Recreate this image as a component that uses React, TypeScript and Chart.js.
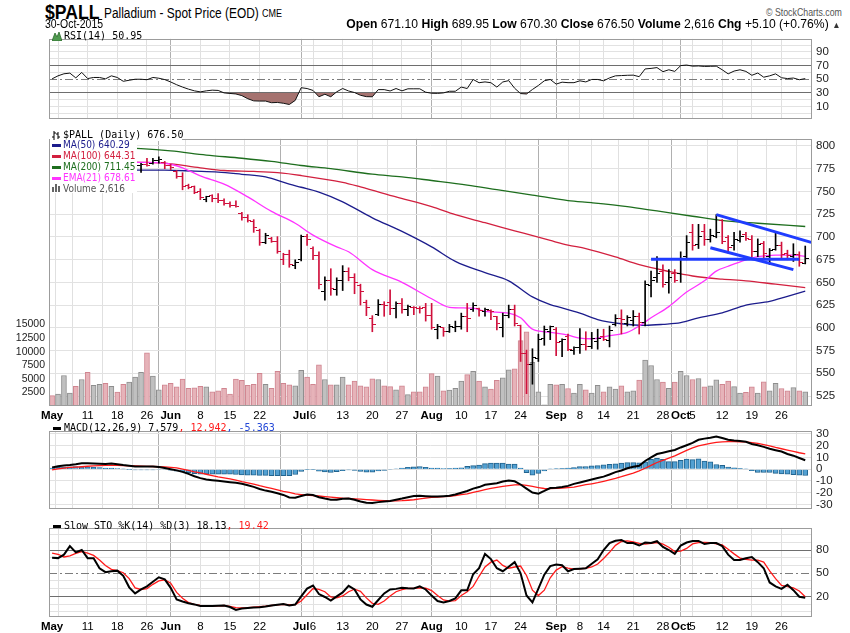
import React, { useEffect, useRef } from 'react';
import { Chart, registerables } from 'chart.js';

Chart.register(...registerables);

const FONT = "'Liberation Sans', Arial, sans-serif";
const MONO = "'DejaVu Sans Mono', monospace";
const COND = "'DejaVu Sans Condensed', 'DejaVu Sans', sans-serif";

const X_MIN = -0.52;
const X_MAX = 128.14;
const LEFT_W = 49;
const RIGHT_W = 38;

// ---- x axis (trading-day index, 1 May 2015 = 0) ----
const tickDays = [0, 1, 6, 11, 16, 20, 25, 30, 35, 42, 44, 49, 54, 59, 64, 69, 74, 79, 85, 89, 93, 98, 103, 106, 108, 113, 118, 123];
const tickLabels = ['May', '', '11', '18', '26', 'Jun', '8', '15', '22', 'Jul', '6', '13', '20', '27', 'Aug', '10', '17', '24', 'Sep', '8', '14', '21', '28', 'Oct', '5', '12', '19', '26'];
const monthTickIdx = [0, 5, 9, 14, 18, 23];

// ---- daily OHLC + volume ----
const opens = [
  780, 776, 781, 786, 788, 779, 790, 780, 783, 783,
  780, 786, 783, 775, 777, 778, 780, 781, 784, 782,
  779, 772, 766, 756, 755, 750, 741, 745, 742, 740,
  737, 734, 726, 721, 717, 707, 694, 698, 695, 675,
  681, 668, 675, 700, 687, 680, 640, 652, 642, 652,
  662, 655, 647, 628, 610, 615, 626, 628, 621, 627,
  620, 622, 621, 622, 614, 598, 600, 596, 600, 602,
  613, 620, 621, 618, 619, 612, 600, 614, 620, 603,
  572, 560, 566, 588, 596, 598, 585, 590, 575, 578,
  582, 580, 585, 591, 586, 604, 610, 605, 608, 612,
  606, 646, 655, 662, 650, 660, 660, 678, 705, 692,
  706, 697, 700, 718, 699, 690, 696, 703, 697, 684,
  693, 678, 686, 690, 682, 678, 681, 671.1,
];
const highs = [
  784, 783, 789, 791, 790, 793, 792, 786, 787, 785,
  789, 788, 784, 780, 782, 781, 786.5, 786.5, 788, 783,
  780, 773, 770.6, 758, 756, 753, 744.7, 746.4, 747.5, 742,
  738.6, 739.7, 727, 724.4, 719, 708.5, 704, 699.6, 700.3, 682,
  685.4, 674.8, 702, 702.8, 689, 683.6, 656, 665, 655, 668.4,
  666, 659.5, 648, 630.4, 613.4, 631, 628.7, 641.8, 628.7, 632.2,
  625, 623.3, 623.3, 626.9, 626.9, 603.8, 600.3, 603.8, 607.4, 616.2,
  626.9, 627.6, 621.6, 621.6, 619.8, 612.7, 616.2, 625, 625, 603,
  575.5, 577, 593, 602, 602, 600.3, 587.9, 593.2, 579, 599.2,
  595.7, 595, 598.5, 598.5, 602, 614.5, 619.8, 613.4, 619, 616.2,
  651.7, 662.4, 678.3, 669.4, 664, 664, 683.6, 701.4, 713.8, 713.8,
  713.8, 708.5, 724.4, 719.1, 701.4, 705, 706.7, 705, 701.4, 697.8,
  695, 687.2, 705, 694.3, 685.4, 692.5, 683.6, 689.95,
];
const lows = [
  774, 773, 779, 783, 777, 778, 778, 777, 779, 777,
  779, 780, 772, 771, 773, 771, 777.7, 780, 781, 775,
  774, 764.5, 751.8, 752.8, 747.5, 741, 738.6, 738.6, 737.6, 735,
  732.6, 732.6, 718.4, 716.3, 705, 690.7, 692.5, 694, 682, 669.5,
  666.6, 665, 673.7, 690.7, 675, 642.9, 630.4, 635.8, 635.8, 641,
  651.7, 637.5, 625, 613.4, 595.7, 613.4, 612.7, 614.5, 611, 616.2,
  613.4, 614.5, 616.2, 607.4, 598.5, 587.9, 590.7, 594.9, 595.7, 598.5,
  595.7, 618, 612.7, 612.7, 609, 597.8, 590, 611, 602, 563,
  527.6, 538, 563, 580.8, 587, 569.4, 568.4, 575, 570.8, 571.9,
  575.5, 577.2, 576.5, 586, 579, 602, 593.2, 602, 602, 593.2,
  602, 634, 650, 644.6, 638.2, 650, 650, 674.8, 685.4, 687.2,
  690.7, 694.3, 699, 692.5, 682, 685.4, 694.3, 696.1, 678.3, 678.3,
  674.8, 669.5, 685.4, 676.5, 674.8, 673, 667.7, 670.3,
];
const closes = [
  776, 781, 786, 788, 779, 790, 780, 783, 783.5, 780,
  786, 783, 775, 777, 779, 780, 778, 784, 785, 779,
  776, 766, 755, 754, 749, 743, 744, 742, 740, 737,
  734, 733.5, 721, 718, 710, 694, 701, 695, 684, 681,
  670, 672, 700, 697, 680, 648, 652, 643, 652, 662,
  655, 650, 640, 622, 604, 626, 625, 621, 627, 620,
  624, 622.5, 621.5, 614, 600, 601, 596, 601, 602, 613,
  610, 625, 619, 620, 618, 605, 614, 620, 605, 572,
  560, 567, 587, 598, 601, 584, 587, 576, 578, 582,
  579, 588, 588.5, 587, 597, 610, 609, 611, 613, 606,
  648, 652, 660, 648, 655, 652, 676, 694, 690, 700,
  697, 701, 705, 695, 688, 697, 700, 698, 684, 692,
  682, 685, 690, 681, 679, 681, 671.4, 676.5,
];
const volumes = [
  1900, 2200, 5600, 2380, 3630, 4880, 6190, 3810, 3990, 4170,
  3630, 2560, 3990, 4400, 5300, 6190, 9760, 5480, 2980, 3870,
  4170, 3510, 4940, 3270, 3330, 3630, 3510, 2620, 2800, 3270,
  2200, 4940, 4700, 3810, 3990, 6010, 3990, 3270, 6370, 4170,
  3870, 3690, 6550, 5300, 3990, 7560, 4880, 3870, 3870, 5300,
  3870, 4580, 3690, 3510, 5000, 4880, 3690, 3570, 2980, 3690,
  2080, 2620, 2620, 3510, 5950, 5480, 2800, 2920, 3270, 4580,
  5770, 6370, 4580, 3510, 3100, 4700, 5180, 6670, 6850, 12020,
  13630, 8040, 2600, 200, 3990, 3870, 3990, 3210, 2380, 3990,
  2980, 2380, 3810, 2620, 3510, 3100, 3690, 2620, 2800, 4760,
  8450, 7440, 4880, 4400, 3270, 4400, 6370, 5600, 4880, 5060,
  3510, 3690, 4820, 3990, 4580, 3570, 2380, 2500, 3510, 2380,
  4460, 2800, 4170, 3210, 2800, 3390, 2800, 2616,
];

// ---- moving averages (day, value) ----
const ma50Days = [0, 14, 19, 24, 28, 32, 36, 40, 42, 45, 49, 54, 59, 64, 68, 73, 77, 81, 84, 86, 89, 92, 96, 100, 103, 106, 109, 113, 117, 121, 124, 127];
const ma50Vals = [772, 773.4, 773.4, 772.3, 771.3, 768.8, 766, 758, 754.6, 749.3, 738.6, 721, 706, 689, 673, 660.6, 651.7, 634, 625.5, 622, 616.2, 609.1, 604.5, 602.8, 603.8, 605.6, 611, 616.5, 625, 629, 634.7, 640.29];
const ma100Days = [0, 14, 19, 25, 29, 34, 38, 42, 49, 52, 58, 64, 68, 73, 78, 84, 87, 90, 95, 99, 104, 108, 113, 117, 122, 127];
const ma100Vals = [786, 782.3, 781.2, 776, 773, 772, 770.6, 767.5, 760, 755, 744, 733.3, 724.4, 715.6, 706.7, 696.1, 691, 687.2, 678, 669.5, 662, 657, 653.5, 651.7, 648, 644.31];
const ma200Days = [0, 15, 20, 26, 32, 37, 42, 47, 54, 59, 64, 70, 75, 81, 87, 91, 97, 102, 108, 114, 119, 127];
const ma200Vals = [801, 797, 794.5, 790, 786.5, 783, 778.5, 775, 769, 766, 762, 757, 752, 746, 740, 737.6, 733.3, 728.5, 722.7, 717.3, 715, 711.45];
const ema21Days = [0, 14, 19, 22, 25, 29, 33, 37, 41, 44, 48, 50, 54, 59, 64, 67, 71, 73, 77, 79, 81, 84, 87, 89, 91, 94, 97, 99, 101, 104, 107, 110, 112, 114, 117, 119, 122, 125, 127];
const ema21Vals = [785, 782, 781, 776, 767, 758, 744, 728, 715, 702, 689, 683.6, 664, 650, 632, 622.6, 621.6, 618, 616.2, 611, 598.5, 595, 592, 588.6, 588, 591.4, 595, 602, 611, 623.3, 639.3, 651.7, 662.4, 667.7, 674.8, 678.3, 680, 680, 678.61];

// ---- drawn trend lines (day, price) ----
const flatLineDays = [101, 126];
const flatLineVals = [675.5, 675.5];
const upperLineDays = [112, 128];
const upperLineVals = [724.5, 694];
const lowerLineDays = [111, 125];
const lowerLineVals = [688, 664];

// ---- RSI(14) ----
const rsi = [
  50.6, 55, 58, 59, 52, 60, 51, 52.6, 52.6, 50.6,
  55, 52.6, 47, 48.5, 50, 50, 49.3, 52.6, 51.5, 49.5,
  46, 42, 38.5, 35.5, 33, 31.5, 33, 34, 33.6, 30,
  29.2, 28.4, 26, 21.5, 18.3, 18, 18, 15.6, 16, 14.8,
  13, 19, 37.6, 36.4, 33.6, 24.3, 28, 24.3, 31.6, 36.4,
  32.8, 30.5, 26.5, 24.5, 24.3, 34.8, 34.8, 32.8, 36.4, 33,
  36, 36, 36, 31, 29.5, 29.3, 30, 32.4, 32.4, 38.5,
  36.4, 49.7, 44.9, 46.1, 44.9, 38.5, 46, 48, 36.8, 29,
  28.4, 35, 40.9, 47.7, 49.7, 42.9, 45.7, 45, 45, 47.7,
  46.1, 49.7, 49.7, 47.7, 52, 55, 55.4, 55.8, 56, 53.8,
  65.1, 65.9, 67.1, 61.1, 63.9, 61.5, 70, 70.8, 69.2, 69.5,
  68.8, 69, 69.2, 63.9, 57.9, 62, 63.9, 61.5, 55.8, 59.1,
  53, 55, 57.9, 52.2, 51, 51.8, 49.3, 50.95,
];

// ---- MACD(12,26,9) ----
const macd = [
  1.5, 2.5, 3.2, 3.6, 4.2, 5.1, 5.0, 4.9, 4.7, 4.4,
  4.9, 4.2, 3.5, 3.0, 2.4, 2.2, 2.2, 2.2, 1.8, 1.0,
  0.0, -1.0, -2.3, -4.0, -6.0, -7.6, -8.7, -9.3, -9.9, -10.5,
  -11.0, -11.6, -12.4, -13.6, -15.0, -16.8, -18.2, -19.2, -20.5, -21.9,
  -24.0, -24.2, -22.8, -21.6, -22.0, -23.8, -25.0, -26.0, -26.0, -25.2,
  -25.0, -26.0, -27.5, -28.6, -28.8, -28.0, -27.4, -27.0, -26.0, -25.0,
  -23.8, -22.8, -22.6, -23.0, -23.3, -23.3, -23.0, -22.6, -21.5, -20.0,
  -18.5, -16.5, -15.2, -13.3, -12.5, -12.0, -10.5, -9.6, -10.3, -13.0,
  -16.5, -19.9, -20.8, -18.5, -16.0, -15.8, -15.2, -14.2, -12.5, -11.3,
  -10.0, -8.8, -7.5, -6.3, -4.5, -2.5, -1.1, 0.8, 2.0, 2.9,
  7.0, 10.0, 12.9, 14.0, 15.2, 16.3, 18.5, 20.4, 22.4, 25.0,
  26.0, 26.8, 27.8, 26.5, 25.0, 24.4, 24.0, 23.3, 21.5, 20.4,
  19.0, 17.4, 16.2, 15.0, 12.9, 11.5, 9.5, 7.579,
];
const macdSignal = [
  -0.5, 0.3, 1.0, 1.5, 1.8, 2.1, 2.5, 2.8, 3.0, 3.2,
  3.3, 3.3, 3.1, 2.9, 2.8, 2.6, 2.4, 2.3, 2.1, 2.0,
  1.6, 1.1, 0.0, -1.0, -2.2, -3.2, -4.3, -5.5, -6.6, -7.4,
  -8.2, -9.2, -10.5, -11.6, -12.6, -14.0, -15.2, -16.4, -17.6, -18.8,
  -19.8, -21.0, -21.6, -22.1, -22.5, -22.8, -23.3, -23.8, -24.3, -24.7,
  -24.9, -25.2, -25.5, -25.8, -26.2, -26.5, -26.8, -27.0, -27.0, -26.8,
  -26.4, -26.0, -25.3, -24.6, -24.0, -23.7, -23.4, -23.1, -22.4, -21.6,
  -21.0, -19.8, -18.6, -17.4, -16.4, -15.5, -14.7, -14.0, -13.3, -13.1,
  -13.8, -14.7, -15.6, -16.4, -16.5, -16.3, -16.0, -15.6, -15.2, -14.2,
  -13.2, -12.4, -11.5, -10.3, -9.0, -7.8, -6.4, -4.8, -3.4, -1.5,
  0.8, 3.2, 5.7, 7.5, 9.5, 11.3, 13.6, 16.0, 18.1, 19.8,
  21.0, 22.0, 22.8, 23.3, 23.4, 23.4, 23.3, 23.2, 22.6, 22.0,
  21.0, 19.8, 18.5, 17.4, 16.3, 15.2, 14.0, 12.942,
];
const macdHist = [
  1.0, 1.5, 1.8, 2.0, 2.2, 2.0, 1.8, 1.6, 1.3, 1.0,
  1.0, 0.6, 0.2, -0.3, -0.6, -0.6, -0.6, -0.6, -0.5, -0.5,
  -0.8, -1.6, -2.3, -3.0, -3.8, -4.2, -4.2, -4.2, -4.2, -4.3,
  -4.3, -4.5, -4.8, -5.0, -5.1, -5.3, -5.3, -5.4, -5.5, -5.6,
  -5.6, -4.5, -1.8, -0.4, -0.4, -1.6, -2.4, -2.8, -2.2, -1.2,
  -0.6, -1.0, -1.8, -2.6, -2.5, -1.5, -1.0, -0.5, 0.4, 1.0,
  1.6, 2.0, 2.3, 1.6, 1.0, 1.0, 0.6, 0.8, 1.0, 1.2,
  2.5, 3.0, 3.4, 4.8, 5.2, 5.2, 5.2, 4.4, 4.4, 1.0,
  -3.0, -5.0, -3.5, -1.5, 0.3, 0.5, 0.8, 1.0, 1.4, 2.2,
  2.3, 2.8, 3.0, 3.8, 4.2, 4.5, 5.3, 5.6, 5.6, 5.4,
  6.2, 8.5, 9.3, 8.5, 6.5, 6.5, 7.5, 8.6, 8.2, 8.8,
  7.0, 6.2, 4.0, 3.2, 1.8, 1.2, 0.8, 0.3, -1.2, -2.8,
  -2.8, -2.8, -3.5, -4.0, -4.2, -4.6, -5.0, -5.363,
];

// ---- Slow Stochastic %K(14) %D(3) ----
const stoK = [
  70, 69.5, 74, 85, 77, 80, 69.4, 69.4, 56.4, 51.3,
  52.5, 53.3, 46.6, 31.7, 23.8, 29, 33, 39, 44.7, 42,
  31, 16.1, 13.3, 11, 9.6, 7.6, 7.4, 7.4, 7.8, 8.2,
  6.2, 2.5, 4.3, 5.0, 5.6, 6.0, 7.0, 8.2, 9.2, 10.2,
  8.2, 9.4, 20, 30, 34, 23, 19.2, 14.5, 20, 25.1,
  33.7, 28.9, 16.1, 9.4, 6.6, 15.3, 23.8, 28.9, 29.7, 31,
  30.5, 30.2, 33, 28.9, 21, 14, 12.1, 14.1, 17.3, 27.8,
  27.8, 48.6, 56.4, 74.9, 68.2, 56.4, 52.5, 58.4, 64.3, 49.8,
  21.2, 12.1, 30, 48, 59.2, 61.1, 60.3, 52.5, 55.3, 55.8,
  56.4, 62.3, 68, 80, 89, 92, 93, 89, 89, 85.8,
  89.7, 89, 91.4, 83.9, 80, 74.9, 85.8, 89.7, 91.7, 91.7,
  87.8, 89, 89, 85, 74, 67, 67, 69.4, 71, 64.3,
  56.4, 38, 33, 29.7, 34.9, 28, 19.5, 18.13,
];
const stoD = [
  76, 74.5, 71, 72.5, 75.5, 78, 76, 73, 67, 60,
  55, 53.3, 50.6, 43, 31, 28.9, 30, 35.6, 40, 41.5,
  37, 25.1, 17.5, 12, 9.6, 8.4, 7.6, 7.4, 7.6, 8.2,
  7.0, 5.4, 5.2, 5.4, 6.0, 6.6, 7.2, 8.2, 9.0, 9.6,
  9.4, 9.4, 14, 22, 30.2, 29, 26, 19.2, 18, 20.5,
  26, 29.2, 26.5, 18, 11, 9.6, 14, 20.5, 26, 28.6,
  30.2, 30.5, 31, 30.5, 27.5, 21, 15.3, 13.8, 14.5, 21.2,
  26, 32.9, 46, 58, 64.3, 67, 60, 56.4, 58, 59.2,
  47, 28, 21, 28, 44, 54, 58.4, 56.5, 55.3, 55.5,
  56.4, 58, 61.8, 69, 77, 86, 91, 91.7, 90.5, 88.5,
  87.8, 88.5, 89.7, 87.5, 83.5, 78, 78.5, 82, 87.8, 89.5,
  89.7, 89.5, 88, 86.5, 81, 75, 69.5, 67.8, 67, 66.8,
  64.3, 53, 43, 34.1, 32.5, 31, 27, 19.42,
];

// ---- axis ticks ----
const rsiTicks = [0, 10, 20, 30, 40, 50, 60, 70, 80, 90, 100];
const rsiLabelled = [10, 30, 50, 70, 90];
const rsiLevels = [30, 70];
const priceTicks = [525, 550, 575, 600, 625, 650, 675, 700, 725, 750, 775, 800];
const volTicks = [2500, 5000, 7500, 10000, 12500, 15000];
const macdTicks = [-30, -20, -10, 0, 10, 20, 30];
const stoTicks = [0, 10, 20, 30, 40, 50, 60, 70, 80, 90, 100];
const stoLabelled = [20, 50, 80];
const stoLevels = [20, 80];
const MID = 50;

const UP = '#000000';
const DOWN = '#d0103c';
const isUp = (i: number) => i > 0 && closes[i] > closes[i - 1];

const boxPlugin = {
  id: 'panelBox',
  afterDraw(chart: any) {
    const a = chart.chartArea;
    const ctx = chart.ctx;
    ctx.save();
    ctx.strokeStyle = '#9c9c9c';
    ctx.lineWidth = 1;
    ctx.strokeRect(Math.round(a.left) + 0.5, Math.round(a.top) + 0.5, Math.round(a.right - a.left) - 1, Math.round(a.bottom - a.top) - 1);
    ctx.restore();
  },
};

function xAxis(show: boolean, h: number): any {
  return {
    type: 'linear',
    position: 'bottom',
    min: X_MIN,
    max: X_MAX,
    offset: false,
    afterBuildTicks: (s: any) => {
      s.ticks = tickDays.map((v) => ({ value: v }));
    },
    afterFit: (s: any) => {
      s.height = show ? h : 0;
    },
    grid: {
      drawTicks: false,
      lineWidth: 1,
      color: (c: any) => (c.index === 0 ? 'rgba(0,0,0,0)' : monthTickIdx.includes(c.index) ? '#b0b0b0' : '#e0e0e0'),
    },
    border: { display: false },
    ticks: {
      display: show,
      autoSkip: false,
      maxRotation: 0,
      minRotation: 0,
      padding: 3,
      color: '#000',
      font: (c: any) => ({ family: FONT, size: 11.5, weight: monthTickIdx.includes(c.index) ? 'bold' : 'normal' }),
      callback: (_v: any, i: number) => tickLabels[i],
    },
  };
}

function rightAxis(min: number, max: number, ticks: number[], labelled: number[] | null, levels: number[], mid: number | null): any {
  return {
    type: 'linear',
    position: 'right',
    min,
    max,
    afterBuildTicks: (s: any) => {
      s.ticks = ticks.map((v) => ({ value: v }));
    },
    afterFit: (s: any) => {
      s.width = RIGHT_W;
    },
    grid: {
      drawTicks: false,
      lineWidth: 1,
      color: (c: any) => {
        const v = c.tick ? c.tick.value : null;
        if (levels.includes(v)) return '#6e6e6e';
        if (mid !== null && v === mid) return '#7c7c7c';
        return '#e2e2e2';
      },
    },
    border: {
      display: false,
      dash: (c: any) => (mid !== null && c.tick && c.tick.value === mid ? [8, 3, 2, 3] : []),
    },
    ticks: {
      autoSkip: false,
      padding: 4,
      color: '#222',
      font: { family: FONT, size: 11.5 },
      callback: (v: any) => (labelled === null || labelled.includes(v) ? String(v) : ''),
    },
  };
}

const baseOptions = (padding: any) => ({
  animation: false,
  responsive: false,
  maintainAspectRatio: false,
  events: [],
  layout: { padding },
  plugins: { legend: { display: false }, tooltip: { enabled: false } },
});

function tickImage(color: string, left: boolean) {
  const c = document.createElement('canvas');
  c.width = 7;
  c.height = 1;
  const g = c.getContext('2d')!;
  g.fillStyle = color;
  if (left) g.fillRect(0, 0, 3, 1);
  else g.fillRect(4, 0, 3, 1);
  return c;
}

const pts = (xs: number[], ys: number[]) => xs.map((x, k) => ({ x, y: ys[k] }));
const daily = (ys: number[]) => ys.map((y, i) => ({ x: i, y }));

export default function App() {
  const rsiRef = useRef<HTMLCanvasElement>(null);
  const priceRef = useRef<HTMLCanvasElement>(null);
  const macdRef = useRef<HTMLCanvasElement>(null);
  const stoRef = useRef<HTMLCanvasElement>(null);

  useEffect(() => {
    Chart.defaults.font.family = FONT;
    const charts: any[] = [];

    charts.push(
      new Chart(rsiRef.current!, {
        type: 'line',
        data: {
          datasets: [
            {
              data: daily(rsi),
              borderColor: '#111',
              borderWidth: 1,
              pointRadius: 0,
              fill: { target: { value: 30 }, above: 'rgba(0,0,0,0)', below: '#a5726f' },
            } as any,
          ],
        },
        options: {
          ...baseOptions({ left: LEFT_W, top: 2, bottom: 3, right: 0 }),
          scales: { x: xAxis(false, 0), y: rightAxis(-8.42, 109.15, rsiTicks, rsiLabelled, rsiLevels, MID) },
        } as any,
        plugins: [boxPlugin],
      })
    );

    const openBlack = tickImage(UP, true);
    const openRed = tickImage(DOWN, true);
    const closeBlack = tickImage(UP, false);
    const closeRed = tickImage(DOWN, false);
    const trendStyle = { borderColor: '#1f3cff', borderWidth: 3, pointRadius: 0, fill: false, yAxisID: 'y' };
    const maStyle = { borderWidth: 1.3, pointRadius: 0, fill: false, cubicInterpolationMode: 'monotone', yAxisID: 'y' };
    charts.push(
      new Chart(priceRef.current!, {
        type: 'line',
        data: {
          datasets: [
            { ...trendStyle, data: pts(flatLineDays, flatLineVals) },
            { ...trendStyle, data: pts(upperLineDays, upperLineVals) },
            { ...trendStyle, data: pts(lowerLineDays, lowerLineVals) },
            {
              data: daily(opens),
              showLine: false,
              pointRadius: 2,
              pointStyle: opens.map((_, i) => (isUp(i) ? openBlack : openRed)),
              yAxisID: 'y',
            },
            {
              data: daily(closes),
              showLine: false,
              pointRadius: 2,
              pointStyle: closes.map((_, i) => (isUp(i) ? closeBlack : closeRed)),
              yAxisID: 'y',
            },
            {
              type: 'bar',
              data: lows.map((l, i) => ({ x: i, y: [l, highs[i]] })),
              backgroundColor: (c: any) => (isUp(c.dataIndex) ? UP : DOWN),
              borderWidth: 0,
              barThickness: 1,
              maxBarThickness: 1.4,
              grouped: false,
              yAxisID: 'y',
            },
            { ...maStyle, data: pts(ema21Days, ema21Vals), borderColor: '#ff33ff' },
            { ...maStyle, data: pts(ma50Days, ma50Vals), borderColor: '#1c1c8c' },
            { ...maStyle, data: pts(ma100Days, ma100Vals), borderColor: '#d2203f' },
            { ...maStyle, data: pts(ma200Days, ma200Vals), borderColor: '#1e6e1e' },
            {
              type: 'bar',
              data: daily(volumes),
              backgroundColor: (c: any) => (isUp(c.dataIndex) ? '#c0c0c0' : '#e6b3b9'),
              borderColor: (c: any) => (isUp(c.dataIndex) ? '#8e8e8e' : '#d08590'),
              borderWidth: 1,
              barThickness: 5,
              maxBarThickness: 5,
              grouped: false,
              yAxisID: 'yv',
            },
          ] as any,
        },
        options: {
          ...baseOptions({ left: 0, top: 2, bottom: 2, right: 0 }),
          scales: {
            x: xAxis(true, 20),
            y: rightAxis(514.03, 807.77, priceTicks, null, [], null),
            yv: {
              type: 'linear',
              position: 'left',
              min: 0,
              max: 49110,
              afterBuildTicks: (s: any) => {
                s.ticks = volTicks.map((v) => ({ value: v }));
              },
              afterFit: (s: any) => {
                s.width = LEFT_W;
              },
              grid: { display: false, drawTicks: false },
              border: { display: false },
              ticks: { autoSkip: false, padding: 4, color: '#222', font: { family: FONT, size: 10.5 }, callback: (v: any) => String(v) },
            },
          },
        } as any,
        plugins: [boxPlugin],
      })
    );

    charts.push(
      new Chart(macdRef.current!, {
        type: 'line',
        data: {
          datasets: [
            { data: daily(macd), borderColor: '#000', borderWidth: 2, pointRadius: 0, fill: false },
            { data: daily(macdSignal), borderColor: '#ff1a1a', borderWidth: 1.3, pointRadius: 0, fill: false },
            {
              type: 'bar',
              data: daily(macdHist),
              backgroundColor: '#52a0d2',
              borderColor: '#22648f',
              borderWidth: 1,
              barThickness: 5,
              maxBarThickness: 5,
              grouped: false,
            },
          ] as any,
        },
        options: {
          ...baseOptions({ left: LEFT_W, top: 2, bottom: 0, right: 0 }),
          scales: { x: xAxis(false, 0), y: rightAxis(-33.94, 32.58, macdTicks, null, [], null) },
        } as any,
        plugins: [boxPlugin],
      })
    );

    charts.push(
      new Chart(stoRef.current!, {
        type: 'line',
        data: {
          datasets: [
            { data: daily(stoK), borderColor: '#000', borderWidth: 2, pointRadius: 0, fill: false },
            { data: daily(stoD), borderColor: '#ff1a1a', borderWidth: 1.3, pointRadius: 0, fill: false },
          ],
        },
        options: {
          ...baseOptions({ left: LEFT_W, top: 2, bottom: 0, right: 0 }),
          scales: { x: xAxis(true, 16), y: rightAxis(-6.7, 108.6, stoTicks, stoLabelled, stoLevels, MID) },
        } as any,
        plugins: [boxPlugin],
      })
    );

    return () => charts.forEach((c) => c.destroy());
  }, []);

  const abs = (left: number, top: number, extra: any = {}) => ({ position: 'absolute' as const, left, top, whiteSpace: 'nowrap' as const, ...extra });
  const narrow = (s: number, origin = 'left') => ({ transform: `scaleX(${s})`, transformOrigin: `${origin} top` });
  const legendRows = [
    { text: 'MA(50) 640.29', color: '#1c1c8c' },
    { text: 'MA(100) 644.31', color: '#d2203f' },
    { text: 'MA(200) 711.45', color: '#1e6e1e' },
    { text: 'EMA(21) 678.61', color: '#ff33ff' },
  ];
  const headerItems = [
    ['Open', '671.10'],
    ['High', '689.95'],
    ['Low', '670.30'],
    ['Close', '676.50'],
    ['Volume', '2,616'],
    ['Chg', '+5.10 (+0.76%)'],
  ];

  return (
    <div style={{ position: 'absolute', left: 0, top: 0, width: 850, height: 633, background: '#fff', overflow: 'hidden', fontFamily: FONT, color: '#000' }}>
      <canvas ref={rsiRef} width={850} height={102} style={{ position: 'absolute', left: 0, top: 28 }} />
      <canvas ref={priceRef} width={850} height={300} style={{ position: 'absolute', left: 0, top: 128 }} />
      <canvas ref={macdRef} width={850} height={100} style={{ position: 'absolute', left: 0, top: 420 }} />
      <canvas ref={stoRef} width={850} height={116} style={{ position: 'absolute', left: 0, top: 517 }} />

      {/* header */}
      <div style={abs(45, 1, { fontSize: 20, fontWeight: 'bold', lineHeight: '22px', ...narrow(0.88) })}>$PALL</div>
      <div style={abs(104, 5, { fontSize: 14, lineHeight: '16px', ...narrow(0.85) })}>Palladium - Spot Price (EOD)</div>
      <div style={abs(262, 8, { fontSize: 10, lineHeight: '12px', ...narrow(0.9) })}>CME</div>
      <div style={abs(45, 18, { fontSize: 12, lineHeight: '13px', ...narrow(0.87) })}>30-Oct-2015</div>
      <div style={{ position: 'absolute', right: 8, top: 6, fontSize: 11, lineHeight: '13px', color: '#555', whiteSpace: 'nowrap', ...narrow(0.8, 'right') }}>© StockCharts.com</div>
      <div style={{ position: 'absolute', right: 10, top: 17, fontSize: 13, lineHeight: '14px', whiteSpace: 'nowrap', ...narrow(0.935, 'right') }}>
        {headerItems.map(([k, v]) => (
          <span key={k}>
            <b>{k}</b> {v}{' '}
          </span>
        ))}
        <span style={{ fontSize: 9, color: '#333' }}>▲</span>
      </div>

      {/* RSI legend */}
      <svg style={{ position: 'absolute', left: 52, top: 31 }} width={10} height={10}>
        <polygon points="0,10 3,2 5,6 7,1 10,10" fill="#4f9a4f" stroke="#2b6b2b" strokeWidth={0.8} />
      </svg>
      <div style={abs(64, 30, { fontFamily: MONO, fontSize: 10, lineHeight: '12px' })}>RSI(14) 50.95</div>

      {/* price legend */}
      <div style={{ position: 'absolute', left: 50, top: 131, width: 87, height: 62, background: '#fff' }} />
      <div style={{ position: 'absolute', left: 50, top: 131, width: 132, height: 10, background: '#fff' }} />
      <svg style={{ position: 'absolute', left: 51, top: 131 }} width={10} height={9}>
        <line x1={3} y1={0} x2={3} y2={9} stroke="#000" strokeWidth={1} />
        <line x1={1} y1={6} x2={3} y2={6} stroke="#000" strokeWidth={1} />
        <line x1={3} y1={2} x2={5} y2={2} stroke="#000" strokeWidth={1} />
        <line x1={7} y1={1} x2={7} y2={8} stroke="#000" strokeWidth={1} />
        <line x1={5} y1={3} x2={7} y2={3} stroke="#000" strokeWidth={1} />
        <line x1={7} y1={6} x2={9} y2={6} stroke="#000" strokeWidth={1} />
      </svg>
      <div style={abs(63, 129, { fontFamily: MONO, fontSize: 10, lineHeight: '12px' })}>$PALL (Daily) 676.50</div>
      {legendRows.map((r, k) => (
        <React.Fragment key={r.text}>
          <div style={{ position: 'absolute', left: 52, top: 144 + k * 11, width: 9, height: 3, background: r.color }} />
          <div style={abs(63, 139 + k * 11, { fontFamily: COND, fontSize: 10, lineHeight: '12px', color: r.color })}>{r.text}</div>
        </React.Fragment>
      ))}
      <svg style={{ position: 'absolute', left: 52, top: 184 }} width={9} height={8}>
        <rect x={0} y={3} width={2} height={5} fill="#666" />
        <rect x={3} y={0} width={2} height={8} fill="#666" />
        <rect x={6} y={2} width={2} height={6} fill="#666" />
      </svg>
      <div style={abs(63, 183, { fontFamily: COND, fontSize: 10, lineHeight: '12px', color: '#555' })}>Volume 2,616</div>

      {/* MACD legend */}
      <div style={{ position: 'absolute', left: 53, top: 427, width: 8, height: 3, background: '#000' }} />
      <div style={abs(64, 422, { fontFamily: MONO, fontSize: 10, lineHeight: '12px' })}>
        MACD(12,26,9) 7.579<span style={{ color: '#ff1a1a' }}>, 12.942</span>
        <span style={{ color: '#2448d8' }}>, -5.363</span>
      </div>

      {/* STO legend */}
      <div style={{ position: 'absolute', left: 53, top: 525, width: 8, height: 3, background: '#000' }} />
      <div style={abs(64, 520, { fontFamily: MONO, fontSize: 10, lineHeight: '12px' })}>
        Slow STO %K(14) %D(3) 18.13<span style={{ color: '#ff1a1a' }}>, 19.42</span>
      </div>
    </div>
  );
}
